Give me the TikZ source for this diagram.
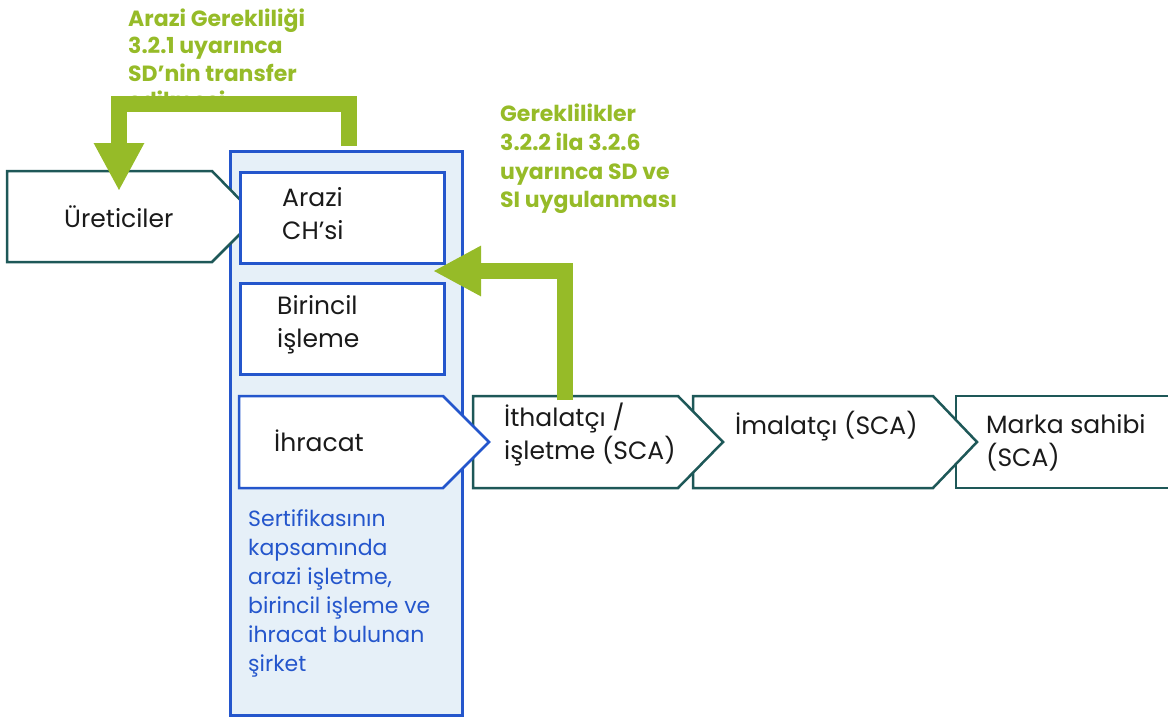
\documentclass[tikz,border=0pt]{standalone}
\usepackage{fontspec}
\setmainfont{Poppins}
\usepackage{xcolor}
\usepackage{tikz}
\usetikzlibrary{
  arrows.meta,
  positioning
}

\definecolor{ccgreen}{RGB}{150,187,40}
\definecolor{ccteal}{RGB}{30,88,88}
\definecolor{ccblue}{RGB}{36,86,204}
\definecolor{ccpale}{RGB}{230,240,248}
\definecolor{cctext}{RGB}{26,26,26}

\begin{document}
\begin{tikzpicture}[x=1pt, y=-1pt,
    every node/.style={inner sep=0pt, align=left, anchor=west},
    txt/.style={text=cctext, font=\fontsize{25}{33}\selectfont},
    note/.style={text=ccgreen, font=\fontsize{22}{27.5}\selectfont\bfseries},
    scope note/.style={text=ccblue, font=\fontsize{22}{29}\selectfont},
    stage/.style={draw=ccteal, line width=2.5pt, fill=white, line join=miter},
    field/.style={draw=ccblue, line width=2.5pt, fill=white, anchor=north west, minimum width=204pt, minimum height=91pt},
    flow/.style={draw=ccgreen, line width=16pt, line join=miter, -{Triangle[width=47pt,length=48pt]}}]
\useasboundingbox (0,0) rectangle (1168,716);

% company container
\node [field, fill=ccpale, minimum width=232pt, minimum height=564pt] (company) at (229,150) {};

% supply chain stages, right to left
\draw [stage] (956,396) -- (1200,396) -- (1200,488) -- (956,488) -- cycle;
\draw [stage] (693,396) -- (933,396) -- (977,442) -- (933,488) -- (693,488) -- cycle;
\draw [stage] (473,396) -- (678,396) -- (723,442) -- (678,488) -- (473,488) -- cycle;
\draw [stage, draw=ccblue] (239,396) -- (443,396) -- (489,442) -- (443,488) -- (239,488) -- cycle;
\draw [stage] (7,171) -- (212,171) -- (257,217) -- (212,262) -- (7,262) -- cycle;

\node [field] (farm) at (239,171) {};
\node [field] (primary) at (239,282) {};

\coordinate (prodtop) at (119,191);
\coordinate (ctop) at (349,146);
\coordinate (imptop) at (565,400);
\coordinate (farmright) at (433,271);

% labels
\node [txt] (producers) at (64,217) {Üreticiler};
\node [txt] (farmtext) at (282,214) {Arazi\\CH’si};
\node [txt] (primtext) at (277,325) {Birincil\\işleme};
\node [txt] (export) at (274,441) {İhracat};
\node [txt] (importer) at (504,434) {İthalatçı /\\işletme (SCA)};
\node [txt] (maker) at (735,426) {İmalatçı (SCA)};
\node [txt] (brand) at (986,443) {Marka sahibi\\(SCA)};
\node [scope note] (scopetext) at (248,593) {Sertifikasının\\kapsamında\\arazi işletme,\\birincil işleme ve\\ihracat bulunan\\şirket};

\node [note] (transfer) at (128,59) {Arazi Gerekliliği\\3.2.1 uyarınca\\SD\char39 nin transfer\\edilmesi};
\node [note, font=\fontsize{22}{28.7}\selectfont\bfseries] (apply) at (500,159) {Gereklilikler\\3.2.2 ila 3.2.6\\uyarınca SD ve\\SI uygulanması};

% requirement arrows
\draw [flow] (ctop) |- (119,104) -- (prodtop);
\draw [flow] (imptop) |- (farmright);
\end{tikzpicture}
\end{document}
